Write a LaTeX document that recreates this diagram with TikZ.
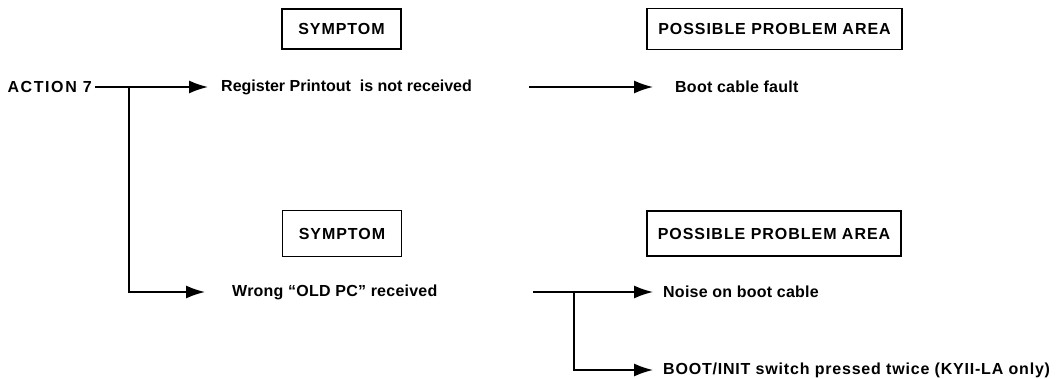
\documentclass[tikz,border=0pt]{standalone}
\usepackage{fontspec}
\setmainfont{Liberation Sans}
\newfontfamily\capsfont[LetterSpace=6]{Liberation Sans}
\newfontfamily\actfont[LetterSpace=10]{Liberation Sans}
\newfontfamily\txtfont[LetterSpace=1.5]{Liberation Sans}
\newfontfamily\widefont[LetterSpace=5]{Liberation Sans}
\usetikzlibrary{arrows.meta}
\begin{document}
\begin{tikzpicture}[x=1pt,y=-1pt,
  conn/.style={line width=1.6pt,-{Latex[length=19pt,width=13pt]}},
  boxlbl/.style={draw,line width=1.4pt,inner sep=0pt,font=\capsfont\bfseries\fontsize{16}{19}\selectfont},
  txt/.style={inner sep=0pt,anchor=west,font=\txtfont\bfseries\fontsize{16}{19}\selectfont}]
\useasboundingbox (0,0) rectangle (1060,379);
% boxes
\node[boxlbl,minimum width=119pt,minimum height=40pt] (sym1) at (341.5,29) {SYMPTOM};
\node[boxlbl,minimum width=255pt,minimum height=41pt] (ppa1) at (774.5,29) {POSSIBLE PROBLEM AREA};
\node[boxlbl,minimum width=119pt,minimum height=46pt] (sym2) at (342,233.5) {SYMPTOM};
\node[boxlbl,minimum width=254pt,minimum height=45pt] (ppa2) at (774,233.5) {POSSIBLE PROBLEM AREA};
% texts
\node[inner sep=0pt,anchor=east,font=\actfont\bfseries\fontsize{16}{19}\selectfont] (act) at (92,87) {ACTION 7};
\node[txt,font=\bfseries\fontsize{16}{19}\selectfont] (reg) at (221,87) {Register Printout\ \ is not received};
\node[txt] (bcf) at (675,87) {Boot cable fault};
\node[txt] (wrong) at (232,292) {Wrong “OLD PC” received};
\node[txt] (noise) at (663,292) {Noise on boot cable};
\node[txt,font=\widefont\bfseries\fontsize{16}{19}\selectfont] (boot) at (663,370) {BOOT/INIT switch pressed twice (KYII-LA only)};
% junctions
\coordinate (j1) at (129,87);
\coordinate (s1) at (529,87);
\coordinate (s2) at (533,292);
\coordinate (j2) at (574,292);
% connectors
\draw[conn] ([xshift=3pt]act.east) -- ([xshift=-13pt]reg.west);
\draw[conn] (j1) |- ([xshift=-27pt]wrong.west);
\draw[conn] (s1) -- ([xshift=-22pt]bcf.west);
\draw[conn] (s2) -- ([xshift=-10pt]noise.west);
\draw[conn] (j2) |- ([xshift=-10pt]boot.west);
\end{tikzpicture}
\end{document}
